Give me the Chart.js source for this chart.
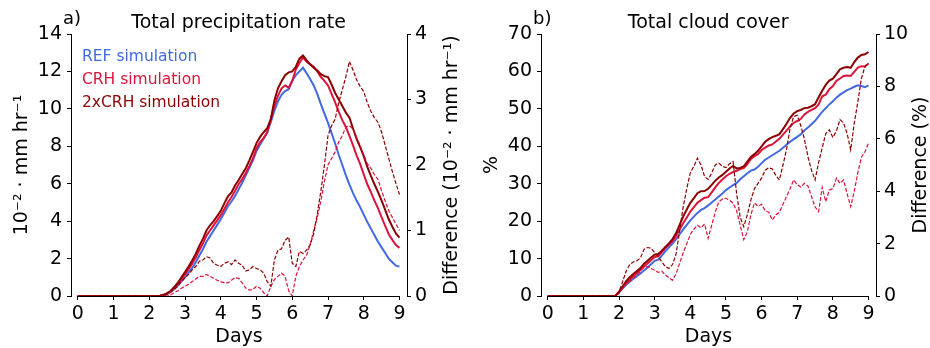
<!DOCTYPE html>
<html>
<head>
<meta charset="utf-8">
<script src="https://cdn.jsdelivr.net/npm/chart.js@4/dist/chart.umd.min.js"></script>
<style>
  body { margin: 0; background: #fff; width: 930px; height: 348px; overflow: hidden; position: relative; }
  canvas { position: absolute; top: 0; }
  #precip { left: 0; }
  #cloud { left: 465px; }
</style>
</head>
<body>
<canvas id="precip" width="465" height="348"></canvas>
<canvas id="cloud" width="465" height="348"></canvas>
<script>
// sampling grid: every 0.1 day from 0 to 9
const days = Array.from({length: 91}, (_, i) => i / 10)
const dayTicks = [0, 1, 2, 3, 4, 5, 6, 7, 8, 9]

// a) total precipitation rate, 10^-2 mm/hr
const precipTicks = [0, 2, 4, 6, 8, 10, 12, 14]
const precipDiffTicks = [0, 1, 2, 3, 4]
const precipREF = [0,0,0,0,0,0,0,0,0,0, 0,0,0,0,0,0,0,0,0,0, 0,0,0,0.02,0.06,0.12,0.22,0.38,0.56,0.78,
  1.0,1.25,1.5,1.8,2.15,2.5,2.9,3.2,3.5,3.8, 4.1,4.45,4.8,5.05,5.35,5.7,6.05,6.45,6.85,7.25,
  7.75,8.1,8.4,8.75,9.3,9.9,10.4,10.75,10.95,11.05, 11.5,11.8,12.0,12.2,11.9,11.6,11.25,10.8,10.25,9.75,
  9.25,8.7,8.15,7.55,7.0,6.45,5.95,5.5,5.1,4.75, 4.35,3.95,3.6,3.25,2.9,2.6,2.3,2.0,1.8,1.62, 1.57]
const precipCRH = [0,0,0,0,0,0,0,0,0,0, 0,0,0,0,0,0,0,0,0,0, 0,0,0,0.02,0.06,0.12,0.24,0.43,0.64,0.9,
  1.15,1.43,1.72,2.06,2.45,2.8,3.23,3.5,3.77,4.04, 4.32,4.65,5.0,5.29,5.63,5.97,6.25,6.57,6.94,7.35,
  7.9,8.22,8.45,8.75,9.45,10.15,10.7,11.1,11.25,11.13, 11.5,12.1,12.45,12.75,12.52,12.38,12.25,12.0,11.7,11.5,
  11.25,10.8,10.35,9.85,9.4,9.03,8.55,8.05,7.52,7.05, 6.5,5.97,5.55,5.1,4.68,4.2,3.75,3.3,3.0,2.72, 2.57]
const precip2xCRH = [0,0,0,0,0,0,0,0,0,0, 0,0,0,0,0,0,0,0,0,0, 0,0,0,0.02,0.06,0.15,0.28,0.48,0.71,1.0,
  1.28,1.58,1.9,2.25,2.68,3.05,3.5,3.78,4.0,4.27, 4.55,4.95,5.32,5.53,5.9,6.2,6.52,6.83,7.25,7.7,
  8.17,8.5,8.75,8.97,9.45,10.45,11.1,11.47,11.8,11.95, 12.0,12.25,12.68,12.85,12.6,12.38,12.2,12.05,11.85,11.75,
  11.7,11.3,10.85,10.5,10.15,9.8,9.53,8.95,8.4,7.95, 7.47,6.9,6.42,5.97,5.55,5.1,4.6,4.1,3.7,3.34, 3.12]
const precipDiffCRH = [0,0,0,0,0,0,0,0,0,0, 0,0,0,0,0,0,0,0,0,0, 0,0,0,0,0,0,0.02,0.05,0.08,0.12,
  0.15,0.18,0.22,0.26,0.3,0.3,0.33,0.3,0.27,0.24, 0.22,0.2,0.2,0.24,0.28,0.27,0.2,0.12,0.09,0.1,
  0.15,0.12,0.05,0.0,0.15,0.25,0.3,0.35,0.3,0.08, 0.0,0.3,0.45,0.55,0.62,0.78,1.0,1.2,1.45,1.75,
  2.0,2.1,2.2,2.35,2.45,2.58,2.6,2.55,2.42,2.3, 2.15,2.02,1.95,1.85,1.78,1.6,1.45,1.3,1.2,1.1, 1.0]
const precipDiff2xCRH = [0,0,0,0,0,0,0,0,0,0, 0,0,0,0,0,0,0,0,0,0, 0,0,0,0,0,0.03,0.06,0.1,0.15,0.22,
  0.28,0.33,0.4,0.45,0.53,0.55,0.6,0.58,0.5,0.47, 0.45,0.5,0.52,0.48,0.55,0.5,0.47,0.38,0.4,0.45,
  0.42,0.4,0.35,0.22,0.15,0.55,0.7,0.72,0.85,0.9, 0.5,0.45,0.68,0.65,0.7,0.78,0.95,1.25,1.6,2.0,
  2.45,2.6,2.7,2.95,3.15,3.35,3.58,3.45,3.3,3.2, 3.12,2.95,2.82,2.72,2.65,2.5,2.3,2.1,1.9,1.72, 1.55]

// b) total cloud cover, %
const cloudTicks = [0, 10, 20, 30, 40, 50, 60, 70]
const cloudDiffTicks = [0, 2, 4, 6, 8, 10]
const cloudREF = [0,0,0,0,0,0,0,0,0,0, 0,0,0,0,0,0,0,0,0,0.1, 1.0,2.0,3.0,3.8,4.6,5.3,6.0,6.8,7.6,8.5,
  9.4,9.7,10.8,12.0,13.0,14.0,15.2,16.5,17.8,19.0, 20.2,21.2,22.2,23.0,23.5,24.2,25.0,25.8,26.6,27.4,
  28.3,29.0,29.6,30.2,31.2,32.0,32.8,33.5,33.8,34.5, 35.5,36.4,37.0,37.6,38.2,38.8,39.6,40.4,41.2,41.9,
  42.5,43.2,44.2,45.0,45.9,46.8,48.0,49.2,50.2,51.2, 52.0,53.0,53.8,54.4,55.0,55.4,55.9,56.3,56.1,55.8, 56.3]
const cloudCRH = [0,0,0,0,0,0,0,0,0,0, 0,0,0,0,0,0,0,0,0,0.1, 1.1,2.3,3.45,4.35,5.3,6.1,6.95,7.9,8.7,9.55,
  10.4,10.6,11.75,12.8,13.7,14.6,16.05,17.75,19.45,21.0, 22.55,23.75,24.9,25.6,26.25,26.4,27.7,29.0,30.2,31.1,
  32.0,32.65,33.15,33.45,33.9,34.15,35.25,36.6,37.35,37.9, 39.0,39.65,40.2,40.5,41.3,42.0,43.1,44.2,45.3,46.3,
  46.75,47.35,48.5,49.2,49.7,50.2,51.2,53.35,53.8,55.25, 56.1,57.5,58.1,58.8,58.9,58.8,59.9,61.0,61.4,61.3, 62.1]
const cloud2xCRH = [0,0,0,0,0,0,0,0,0,0, 0,0,0,0,0,0,0,0,0,0.1, 1.15,2.55,3.95,5.0,5.9,6.65,7.45,8.6,9.45,10.3,
  11.05,11.2,12.1,13.1,14.05,15.2,16.8,19.0,21.2,23.1, 24.9,26.15,27.45,28.0,28.05,28.65,29.7,30.8,31.65,32.35,
  33.2,34.05,34.75,34.1,34.2,34.65,35.9,37.15,37.9,38.8, 40.0,41.2,41.9,42.45,42.8,43.25,44.6,46.0,47.6,48.75,
  49.4,49.7,50.2,50.3,50.7,51.25,53.1,54.85,56.4,57.55, 58.05,59.3,60.55,61.0,61.2,60.98,62.5,63.7,64.4,64.56, 65.2]
const cloudDiffCRH = [0,0,0,0,0,0,0,0,0,0, 0,0,0,0,0,0,0,0,0,0, 0.1,0.3,0.45,0.55,0.68,0.8,0.95,1.1,1.12,1.05,
  0.98,0.9,0.95,0.8,0.7,0.6,0.85,1.25,1.65,2.0, 2.35,2.55,2.7,2.6,2.75,2.2,2.7,3.2,3.6,3.7,
  3.73,3.65,3.55,3.25,2.7,2.15,2.45,3.1,3.55,3.42, 3.5,3.25,3.2,2.9,3.1,3.2,3.5,3.8,4.1,4.43,
  4.25,4.15,4.3,4.2,3.8,3.4,3.22,4.15,3.6,4.05, 4.1,4.5,4.3,4.43,3.9,3.41,4.0,4.7,5.3,5.5, 5.83]
const cloudDiff2xCRH = [0,0,0,0,0,0,0,0,0,0, 0,0,0,0,0,0,0,0,0,0, 0.15,0.55,0.95,1.2,1.3,1.35,1.45,1.78,1.85,1.82,
  1.65,1.5,1.3,1.12,1.05,1.2,1.6,2.5,3.4,4.1, 4.7,4.95,5.26,5.0,4.56,4.45,4.7,5.0,5.07,4.95,
  4.9,5.05,5.13,3.9,3.0,2.65,3.1,3.67,4.1,4.3, 4.5,4.8,4.9,4.85,4.6,4.43,5.0,5.6,6.4,6.85,
  6.9,6.5,6.0,5.32,4.8,4.43,5.1,5.65,6.2,6.34, 6.05,6.3,6.73,6.6,6.2,5.58,6.6,7.4,8.3,8.76, 8.89]

const font = {family: "'DejaVu Sans'", size: 19}

// offset spines, panel title, panel letter, right-hand axis title, text legend
const decor = {
  id: "decor",
  beforeDatasetsDraw(chart) {
    const {ctx, chartArea, scales: {x}} = chart
    ctx.save()
    ctx.strokeStyle = "#000"
    ctx.lineWidth = 1
    ctx.beginPath()
    ctx.moveTo(x.getPixelForValue(dayTicks[0]), chartArea.bottom + 0.5)
    ctx.lineTo(x.getPixelForValue(dayTicks[dayTicks.length - 1]), chartArea.bottom + 0.5)
    ctx.stroke()
    ctx.restore()
  },
  afterDraw(chart, args, opts) {
    const {ctx, chartArea, scales: {x}} = chart
    ctx.save()
    ctx.fillStyle = "#000"
    ctx.font = "19px 'DejaVu Sans'"
    ctx.textAlign = "center"
    ctx.fillText(opts.title, x.getPixelForValue(4.5), 28)
    ctx.textAlign = "left"
    ctx.font = "18px 'DejaVu Sans'"
    ctx.fillText(opts.letter, chartArea.left - 8, 24)

    if (opts.legend) {
      ctx.font = "15.5px 'DejaVu Sans'"
      chart.data.datasets.filter(ds => ds.inLegend).forEach((ds, i) => {
        ctx.fillStyle = ds.borderColor
        ctx.fillText(ds.label, chartArea.left + 11, 60.5 + i * 23)
      })
    }

    ctx.fillStyle = "#000"
    ctx.font = "19px 'DejaVu Sans'"
    ctx.translate(chartArea.right + 45.5, (chartArea.top + chartArea.bottom) / 2)
    ctx.rotate(-Math.PI / 2)
    ctx.textAlign = "center"
    ctx.textBaseline = "middle"
    ctx.fillText(opts.rightTitle, 0, 0)
    ctx.restore()
  }
}

function yAxis(position, max, ticks, width, pad) {
  return {
    position: position,
    min: 0,
    max: max,
    afterBuildTicks: ax => { ax.ticks = ticks.map(v => ({value: v})) },
    afterFit: s => { s.width = width },
    border: {display: true, color: "#000", width: 1},
    grid: {drawOnChartArea: false, tickLength: 4, color: "#000"},
    ticks: {font: font, color: "#000", padding: pad, callback: v => String(v)}
  }
}

function makePanel(id, p) {
  const pts = arr => days.map((d, i) => ({x: d, y: arr[i]}))
  new Chart(document.getElementById(id), {
    type: "line",
    data: {
      datasets: [
        {label: "REF simulation", inLegend: true, data: pts(p.ref), borderColor: "royalblue", borderWidth: 2, yAxisID: "y", order: 4},
        {label: "CRH simulation", inLegend: true, data: pts(p.crh), borderColor: "crimson", borderWidth: 2, yAxisID: "y", order: 3},
        {label: "2xCRH simulation", inLegend: true, data: pts(p.crh2), borderColor: "darkred", borderWidth: 2, yAxisID: "y", order: 2},
        {label: "CRH - REF", data: pts(p.diff), borderColor: "crimson", borderWidth: 1.2, borderDash: [4, 1.8], yAxisID: "y2", order: 1},
        {label: "2xCRH - REF", data: pts(p.diff2), borderColor: "darkred", borderWidth: 1.2, borderDash: [4, 1.8], yAxisID: "y2", order: 0}
      ]
    },
    options: {
      responsive: false,
      animation: false,
      devicePixelRatio: 1,
      layout: {padding: {top: 34, left: 0, right: 0, bottom: 0}},
      elements: {point: {radius: 0}, line: {tension: 0}},
      plugins: {
        legend: {display: false},
        tooltip: {enabled: false},
        decor: {title: p.title, letter: p.letter, rightTitle: p.rightTitle, legend: p.legend}
      },
      scales: {
        x: {
          type: "linear",
          min: -0.19,
          max: 9.21,
          afterBuildTicks: ax => { ax.ticks = dayTicks.map(v => ({value: v})) },
          afterFit: s => { s.height = 52 },
          border: {display: false},
          grid: {drawOnChartArea: false, tickLength: 4, color: "#000"},
          ticks: {font: font, color: "#000", padding: 3, maxRotation: 0, autoSkip: false, callback: v => String(v)},
          title: {display: true, text: "Days", font: font, color: "#000", padding: {top: 0, bottom: 0}}
        },
        y: Object.assign(yAxis("left", p.leftTicks[p.leftTicks.length - 1], p.leftTicks, p.leftWidth, 5),
          {title: {display: true, text: p.leftTitle, font: font, color: "#000", padding: {top: p.leftTitlePad, bottom: 0}}}),
        y2: yAxis("right", p.rightTicks[p.rightTicks.length - 1], p.rightTicks, p.rightWidth, 4)
      }
    },
    plugins: [decor]
  })
}

makePanel("precip", {
  title: "Total precipitation rate", letter: "a)", legend: true,
  leftTitle: "10\u207B\u00B2 \u00B7 mm hr\u207B\u00B9", leftTitlePad: 10.5,
  rightTitle: "Difference (10\u207B\u00B2 \u00B7 mm hr\u207B\u00B9)",
  leftTicks: precipTicks, rightTicks: precipDiffTicks, leftWidth: 71, rightWidth: 58,
  ref: precipREF, crh: precipCRH, crh2: precip2xCRH, diff: precipDiffCRH, diff2: precipDiff2xCRH
})

makePanel("cloud", {
  title: "Total cloud cover", letter: "b)", legend: false,
  leftTitle: "%", leftTitlePad: 15.5,
  rightTitle: "Difference (%)",
  leftTicks: cloudTicks, rightTicks: cloudDiffTicks, leftWidth: 76, rightWidth: 54,
  ref: cloudREF, crh: cloudCRH, crh2: cloud2xCRH, diff: cloudDiffCRH, diff2: cloudDiff2xCRH
})
</script>
</body>
</html>
